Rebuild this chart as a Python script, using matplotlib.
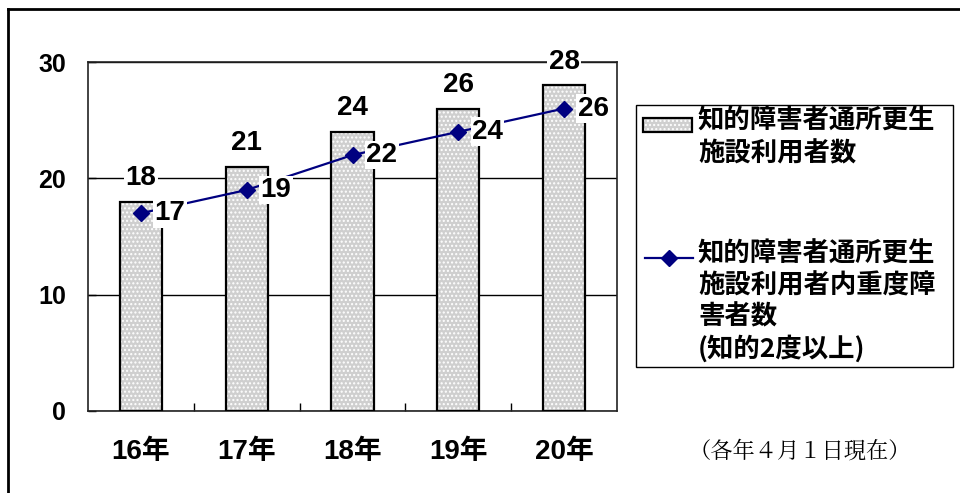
import matplotlib
matplotlib.use("Agg")
import matplotlib.pyplot as plt
from matplotlib import font_manager
from matplotlib.lines import Line2D
from matplotlib.patches import Rectangle

# ---- data ----
years = ["16年", "17年", "18年", "19年", "20年"]
users_total = [18, 21, 24, 26, 28]
users_severe = [17, 19, 22, 24, 26]
label_total = "知的障害者通所更生\n施設利用者数"
label_severe = "知的障害者通所更生\n施設利用者内重度障\n害者数\n(知的2度以上)"
note = "（各年４月１日現在）"
yticks = [0, 10, 20, 30]

installed = {f.name for f in font_manager.fontManager.ttflist}


def pick(*names):
    return [n for n in names if n in installed] or ["DejaVu Sans"]


JP = pick("Noto Sans CJK JP")
SANS = pick("Liberation Sans", "Arimo") + JP
NARROW = pick("Liberation Sans Narrow", "Liberation Sans") + JP
SERIF = pick("Noto Serif CJK JP", "Noto Sans CJK JP")

NAVY = "#000080"

fig = plt.figure(figsize=(9.6, 4.93), dpi=100)
ax = fig.add_axes([88 / 960, 82 / 493, 529 / 960, 349 / 493])

x = list(range(len(years)))

# bars: dotted grey fill, then black outline
ax.bar(x, users_total, width=0.4, color="#cfcfcf", edgecolor="white",
       hatch="....", linewidth=0, zorder=2)
ax.bar(x, users_total, width=0.4, fill=False, edgecolor="black",
       linewidth=1.6, zorder=3)

# line for severe cases
ax.plot(x, users_severe, color=NAVY, lw=1.6, marker="D", markersize=8,
        markerfacecolor=NAVY, markeredgecolor=NAVY, zorder=5)

# value labels
for xi, v in zip(x, users_total):
    ax.annotate(str(v), (xi, v), xytext=(0, 17), textcoords="offset points",
                ha="center", va="center", fontsize=20, fontweight="bold",
                family=NARROW, zorder=6,
                bbox=dict(boxstyle="square,pad=0.05", fc="white", ec="none"))
for xi, v in zip(x, users_severe):
    ax.annotate(str(v), (xi, v), xytext=(21, 0), textcoords="offset points",
                ha="center", va="center", fontsize=20, fontweight="bold",
                family=NARROW, zorder=6,
                bbox=dict(boxstyle="square,pad=0.05", fc="white", ec="none"))

ax.set_xlim(-0.5, len(years) - 0.5)
ax.set_ylim(0, 30)
ax.set_yticks(yticks)
ax.set_yticklabels([str(t) for t in yticks], fontsize=18, fontweight="bold",
                   family=SANS)
ax.set_xticks(x)
ax.set_xticklabels(years, fontsize=20, fontweight="bold", family=SANS)
ax.set_xticks([i + 0.5 for i in x[:-1]], minor=True)
ax.tick_params(axis="x", which="major", length=0, pad=20)
ax.tick_params(axis="x", which="minor", direction="in", length=6, width=1)
ax.tick_params(axis="y", direction="in", length=6, width=1, pad=16)
ax.yaxis.grid(True, color="black", linewidth=1)
ax.set_axisbelow(True)
for s in ax.spines.values():
    s.set_linewidth(1.2)
    s.set_color("#222222")

# legend box
px = lambda v: v / 960
py = lambda v: 1 - v / 493
fig.add_artist(Rectangle((px(636), py(367)), px(953) - px(636), py(105) - py(367),
                         transform=fig.transFigure, fill=False, ec="black", lw=1))
fig.add_artist(Rectangle((px(643), py(132)), px(692) - px(643), py(118) - py(132),
                         transform=fig.transFigure, fc="#cfcfcf", ec="white",
                         hatch="....", lw=0))
fig.add_artist(Rectangle((px(643), py(132)), px(692) - px(643), py(118) - py(132),
                         transform=fig.transFigure, fill=False, ec="black", lw=1.6))
fig.add_artist(Line2D([px(645), px(693)], [py(258), py(258)], transform=fig.transFigure,
                      color=NAVY, lw=1.6))
fig.add_artist(Line2D([px(669)], [py(258)], transform=fig.transFigure, color=NAVY,
                      marker="D", markersize=8, lw=0))
fig.text(px(698), py(108), label_total, fontsize=19, fontweight="bold", family=JP,
         ha="left", va="top", linespacing=1.25)
fig.text(px(698), py(241), label_severe, fontsize=19, fontweight="bold", family=JP,
         ha="left", va="top", linespacing=1.2)

# note
fig.text(px(800), py(451), note, fontsize=16, family=SERIF, ha="center", va="center")

# outer frame (left and top edges)
fig.add_artist(Line2D([px(8), px(8)], [0, py(9)], transform=fig.transFigure,
                      color="black", lw=2))
fig.add_artist(Line2D([px(8), 1], [py(9), py(9)], transform=fig.transFigure,
                      color="black", lw=2))

fig.savefig("out.png", dpi=100)
